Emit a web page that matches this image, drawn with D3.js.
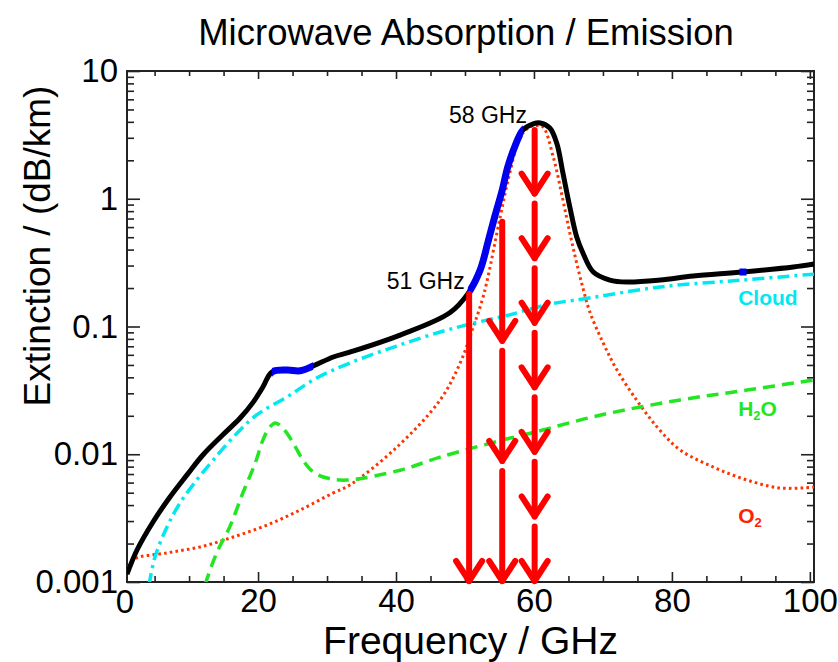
<!DOCTYPE html>
<html>
<head>
  <meta charset="utf-8">
  <script src="https://d3js.org/d3.v7.min.js"></script>
  <style>
    body { margin: 0; background: #fff; }
    svg text { font-family: "Liberation Sans", Arial, Helvetica, sans-serif; }
    .tick text { font-size: 33px; fill: #000; }
    .tick line { stroke: #222; stroke-width: 1.6; }
  </style>
</head>
<body>
<script>
  // ---- data (frequency in GHz, extinction in dB/km) ----
  var totalFreq = [1.0, 2.45, 4.77, 7.23, 9.7, 12.0, 14.9, 17.4, 19.3, 20.7, 22.0, 24.2, 26.1, 28.0,
                   30.9, 33.3, 40.6, 47.8, 50.4, 52.2, 53.3, 54.3, 55.4, 56.2, 57.2, 58.4, 59.9,
                   60.9, 62.3, 63.3, 64.2, 65.2, 66.2, 67.1, 68.6, 71.0, 73.5, 78.3, 83.1, 90.3, 97.6, 100.6];
  var totalExt  = [0.00115, 0.00178, 0.00295, 0.00463, 0.00689, 0.00986, 0.0142, 0.0192, 0.0256, 0.0336,
                   0.044, 0.0456, 0.045, 0.0491, 0.0577, 0.063, 0.0857, 0.128, 0.18, 0.277, 0.451, 0.72,
                   1.17, 1.77, 2.54, 3.45, 3.85, 3.92, 3.58, 2.73, 1.59, 0.861, 0.502, 0.376, 0.267,
                   0.231, 0.223, 0.231, 0.248, 0.267, 0.292, 0.308];

  var cloudFreq = [4.2, 5.06, 6.8, 8.68, 11.1, 13.5, 16.4, 19.8, 24.2, 28.5, 33.3, 40.0, 46.4, 51.2,
                   56.1, 62.3, 67.1, 78.3, 90.3, 100.6];
  var cloudExt  = [0.00095, 0.00157, 0.0027, 0.00415, 0.00628, 0.00901, 0.0136, 0.0203, 0.0281, 0.0395,
                   0.0518, 0.07, 0.0906, 0.106, 0.122, 0.15, 0.164, 0.204, 0.231, 0.257];

  var h2oFreq = [12.3, 14.0, 15.9, 17.8, 19.6, 20.7, 21.7, 22.5, 23.6, 25.1, 26.5, 28.0, 30.0, 32.9,
                 40.6, 46.4, 55.4, 60.1, 69.7, 81.2, 90.9, 100.6];
  var h2oExt  = [0.00095, 0.00169, 0.0027, 0.00498, 0.00855, 0.0129, 0.0163, 0.0176, 0.016, 0.01225,
                 0.00901, 0.00726, 0.00651, 0.00628, 0.0075, 0.0095, 0.0129, 0.0149, 0.0203, 0.0266,
                 0.0318, 0.0381];

  var o2Freq = [1.0, 1.87, 6.8, 11.6, 16.4, 21.3, 26.1, 30.9, 33.3, 40.0, 46.4, 49.3, 51.2, 52.5, 53.3,
                55.1, 56.5, 58.0, 59.4, 60.3, 61.3, 62.8, 64.2, 65.2, 66.1, 67.1, 68.1, 70.0, 72.0,
                75.0, 78.0, 81.2, 86.0, 90.9, 95.7, 100.6];
  var o2Ext  = [0.00118, 0.00149, 0.00169, 0.00188, 0.00225, 0.00279, 0.00366, 0.00498, 0.00574, 0.0112,
                0.0266, 0.0518, 0.099, 0.161, 0.24, 0.72, 1.59, 3.04, 3.65, 3.75, 3.65, 2.12, 0.977,
                0.54, 0.33, 0.2, 0.13, 0.075, 0.046, 0.026, 0.016, 0.0108, 0.00794, 0.00628, 0.00544, 0.00553];

  // sounding channels highlighted in blue
  var blueBands = [[22.0, 28.0], [50.4, 58.4]];
  var blueMarkFreq = [90.3];

  // red arrows: frequency, top of arrow, number of segments
  var arrowFreq = [50.6, 55.4, 60.1];
  var arrowTop  = [0.18, 0.66, 3.45];
  var arrowSegs = [1, 3, 7];

  var xTickMajor = [20, 40, 60, 80, 100];
  var yTickMajor = [0.001, 0.01, 0.1, 1, 10];

  // ---- layout ----
  var W = 838, H = 662;
  var pL = 127, pR = 814, pT = 71, pB = 582;

  var svg = d3.select("body").append("svg")
      .attr("width", W)
      .attr("height", H);

  var x = d3.scaleLinear().domain([1, 100.6]).range([pL, pR]);
  var y = d3.scaleLog().domain([0.001, 10]).range([pB, pT]);

  var defs = svg.append("defs");
  defs.append("clipPath").attr("id", "plotclip")
    .append("rect")
      .attr("x", pL).attr("y", pT)
      .attr("width", pR - pL).attr("height", pB - pT);

  // minor tick values
  var xMinor = d3.range(5, 101, 5).filter(function(d) { return xTickMajor.indexOf(d) < 0; });
  var yMinor = [];
  [0.001, 0.01, 0.1, 1].forEach(function(dec) {
    for (var k = 2; k <= 9; k++) yMinor.push(dec * k);
  });

  function noDomain(g) { g.select(".domain").remove(); }

  // bottom axis
  svg.append("g").attr("transform", "translate(0," + pB + ")")
      .call(d3.axisBottom(x).tickValues(xTickMajor).tickSize(-10).tickPadding(7).tickFormat(d3.format("d")))
      .call(noDomain);
  svg.append("g").attr("transform", "translate(0," + pB + ")")
      .call(d3.axisBottom(x).tickValues(xMinor).tickSize(-6).tickFormat(""))
      .call(noDomain);
  // "0" label at the origin
  svg.append("text")
      .attr("x", pL - 2).attr("y", pB + 30.5)
      .attr("text-anchor", "middle")
      .style("font-size", "33px")
      .text("0");

  // top axis (ticks only)
  svg.append("g").attr("transform", "translate(0," + pT + ")")
      .call(d3.axisTop(x).tickValues(xTickMajor).tickSize(-8).tickFormat(""))
      .call(noDomain);
  svg.append("g").attr("transform", "translate(0," + pT + ")")
      .call(d3.axisTop(x).tickValues(xMinor).tickSize(-5).tickFormat(""))
      .call(noDomain);

  // left axis
  svg.append("g").attr("transform", "translate(" + pL + ",0)")
      .call(d3.axisLeft(y).tickValues(yTickMajor).tickSize(-13).tickPadding(9)
        .tickFormat(function(d) { return d >= 1 ? d3.format("d")(d) : d3.format(".3~f")(d); }))
      .call(noDomain);
  svg.append("g").attr("transform", "translate(" + pL + ",0)")
      .call(d3.axisLeft(y).tickValues(yMinor).tickSize(-7).tickFormat(""))
      .call(noDomain);

  // right axis (ticks only)
  svg.append("g").attr("transform", "translate(" + pR + ",0)")
      .call(d3.axisRight(y).tickValues(yTickMajor).tickSize(-13).tickFormat(""))
      .call(noDomain);
  svg.append("g").attr("transform", "translate(" + pR + ",0)")
      .call(d3.axisRight(y).tickValues(yMinor).tickSize(-7).tickFormat(""))
      .call(noDomain);

  // frame
  svg.append("rect")
      .attr("x", pL).attr("y", pT)
      .attr("width", pR - pL).attr("height", pB - pT)
      .attr("fill", "none")
      .attr("stroke", "#222")
      .attr("stroke-width", 2);

  // ---- curves ----
  var line = d3.line()
      .x(function(d) { return x(d[0]); })
      .y(function(d) { return y(d[1]); })
      .curve(d3.curveCatmullRom.alpha(0.5));

  function pairs(f, v) { return f.map(function(d, i) { return [d, v[i]]; }); }

  var plot = svg.append("g").attr("clip-path", "url(#plotclip)");

  plot.append("path")
      .attr("d", line(pairs(o2Freq, o2Ext)))
      .attr("fill", "none")
      .attr("stroke", "#ff3300")
      .attr("stroke-width", 3)
      .attr("stroke-dasharray", "2.6,3.2");

  plot.append("path")
      .attr("d", line(pairs(h2oFreq, h2oExt)))
      .attr("fill", "none")
      .attr("stroke", "#22e622")
      .attr("stroke-width", 3.5)
      .attr("stroke-dasharray", "12,7");

  plot.append("path")
      .attr("d", line(pairs(cloudFreq, cloudExt)))
      .attr("fill", "none")
      .attr("stroke", "#00e8f0")
      .attr("stroke-width", 3.5)
      .attr("stroke-dasharray", "12,5,3,5");

  var totalPath = line(pairs(totalFreq, totalExt));
  plot.append("path")
      .attr("d", totalPath)
      .attr("fill", "none")
      .attr("stroke", "#000")
      .attr("stroke-width", 5);

  blueBands.forEach(function(b, i) {
    defs.append("clipPath").attr("id", "band" + i)
      .append("rect")
        .attr("x", x(b[0])).attr("y", pT)
        .attr("width", x(b[1]) - x(b[0])).attr("height", pB - pT);
    plot.append("path")
        .attr("d", totalPath)
        .attr("clip-path", "url(#band" + i + ")")
        .attr("fill", "none")
        .attr("stroke", "#0000ee")
        .attr("stroke-width", 7);
  });

  function totalAt(f) {
    var i = d3.bisectLeft(totalFreq, f);
    var f0 = totalFreq[i - 1], f1 = totalFreq[i];
    var t = (f - f0) / (f1 - f0);
    return Math.pow(10, Math.log10(totalExt[i - 1]) * (1 - t) + Math.log10(totalExt[i]) * t);
  }
  plot.selectAll(".bluemark").data(blueMarkFreq).enter().append("rect")
      .attr("x", function(d) { return x(d) - 3.5; })
      .attr("y", function(d) { return y(totalAt(d)) - 3.5; })
      .attr("width", 7).attr("height", 7)
      .attr("fill", "#0000ee");

  // ---- red arrows ----
  var arrows = svg.append("g")
      .attr("stroke", "#ff0000")
      .attr("stroke-width", 6)
      .attr("stroke-linecap", "round")
      .attr("stroke-linejoin", "round")
      .attr("fill", "none");

  arrowFreq.forEach(function(f, i) {
    var px = x(f), y0 = y(arrowTop[i]), y1 = y(0.001);
    var seg = (y1 - y0) / arrowSegs[i];
    for (var k = 0; k < arrowSegs[i]; k++) {
      var s = y0 + k * seg + (k > 0 ? 9 : 0);
      var e = y0 + (k + 1) * seg;
      arrows.append("line")
          .attr("x1", px).attr("x2", px)
          .attr("y1", s).attr("y2", e - 1);
      arrows.append("path")
          .attr("d", "M" + (px - 13) + "," + (e - 21) + "L" + px + "," + (e - 1) + "L" + (px + 13) + "," + (e - 21));
    }
  });

  // ---- labels ----
  svg.append("text")
      .attr("x", x(58.4) + 4).attr("y", y(3.45) - 7)
      .attr("text-anchor", "end")
      .style("font-size", "23px")
      .text("58 GHz");
  svg.append("text")
      .attr("x", x(50.4) - 3).attr("y", y(0.18) - 5)
      .attr("text-anchor", "end")
      .style("font-size", "23px")
      .text("51 GHz");

  svg.append("text")
      .attr("x", x(89.6)).attr("y", y(0.147))
      .attr("fill", "#00e8f0")
      .style("font-size", "21px").style("font-weight", "bold")
      .text("Cloud");

  var h2o = svg.append("text")
      .attr("x", x(89.6)).attr("y", y(0.02))
      .attr("fill", "#22e622")
      .style("font-size", "21px").style("font-weight", "bold");
  h2o.append("tspan").text("H");
  h2o.append("tspan").attr("dy", 4).style("font-size", "13px").text("2");
  h2o.append("tspan").attr("dy", -4).text("O");

  var o2 = svg.append("text")
      .attr("x", x(89.6)).attr("y", y(0.0029))
      .attr("fill", "#ff2200")
      .style("font-size", "21px").style("font-weight", "bold");
  o2.append("tspan").text("O");
  o2.append("tspan").attr("dy", 4).style("font-size", "13px").text("2");

  // title and axis titles
  svg.append("text")
      .attr("x", 466).attr("y", 45)
      .attr("text-anchor", "middle")
      .style("font-size", "36.5px")
      .text("Microwave Absorption / Emission");

  svg.append("text")
      .attr("x", (pL + pR) / 2).attr("y", 654)
      .attr("text-anchor", "middle")
      .style("font-size", "39px")
      .text("Frequency / GHz");

  svg.append("text")
      .attr("transform", "translate(50,246) rotate(-90)")
      .attr("text-anchor", "middle")
      .style("font-size", "37px")
      .text("Extinction / (dB/km)");
</script>
</body>
</html>
